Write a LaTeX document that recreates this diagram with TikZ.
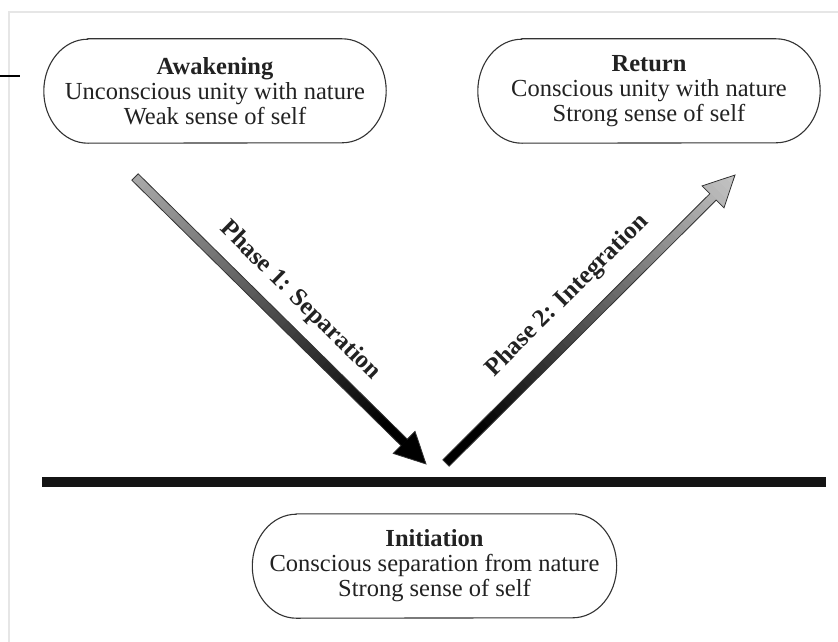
\documentclass[tikz,border=0pt]{standalone}
\usepackage{fontspec}
\setmainfont{Liberation Serif}
\definecolor{framegray}{HTML}{E6E6E6}
\definecolor{inkgray}{HTML}{222222}
\definecolor{tailgray}{HTML}{A8A8A8}
\definecolor{headgray}{HTML}{C6C6C6}
\definecolor{edgegray}{HTML}{333333}
\newcommand\drawstadium[1]{%
  \draw[boxline] ([xshift=44pt]#1.north west) -- ([xshift=-44pt]#1.north east)
    arc[start angle=90,end angle=-90,x radius=44pt,y radius=52pt]
    -- ([xshift=44pt]#1.south west)
    arc[start angle=270,end angle=90,x radius=44pt,y radius=52pt] -- cycle;}
\begin{document}
\begin{tikzpicture}[x=1pt,y=1pt,
  stagebox/.style={inner sep=0pt, minimum height=104pt, align=center,
    text=inkgray, font=\fontsize{24.5}{25}\selectfont},
  boxline/.style={draw=edgegray, line width=1.1pt},
  phaselabel/.style={inner sep=0pt, text=inkgray,
    font=\fontsize{25}{26}\selectfont\bfseries},
  arrowedge/.style={draw=edgegray, line width=0.8pt, line join=miter},
  floor/.style={line width=10pt, draw=black!92},
  framestroke/.style={draw=framegray, line width=1.5pt}]
\useasboundingbox (0,0) rectangle (838,-642);
\fill[white] (0,0) rectangle (838,-642);

% faint frame and stray mark
\coordinate (fa) at (9,-642);
\coordinate (fb) at (9,-12);
\coordinate (fc) at (838,-12);
\draw[framestroke] (fa) -- (fb) -- (fc);
\coordinate (ma) at (0,-76);
\coordinate (mb) at (20,-76);
\draw[line width=1.5pt, black] (ma) -- (mb);

% stages
\node[stagebox, minimum width=342pt] (awk) at (215,-91)
  {\textbf{Awakening}\\Unconscious unity with nature\\Weak sense of self};
\drawstadium{awk}
\node[stagebox, minimum width=342pt] (ret) at (649,-91)
  {\textbf{Return}\\Conscious unity with nature\\Strong sense of self};
\drawstadium{ret}
\node[stagebox, minimum width=364pt] (ini) at (434.5,-566)
  {\textbf{Initiation}\\Conscious separation from nature\\Strong sense of self};
\drawstadium{ini}

% ground line
\coordinate (g1) at (42,-482);
\coordinate (g2) at (826,-482);
\draw[floor] (g1) -- (g2);

% arrow 1 (down)
\coordinate (t1) at (135,-177);
\coordinate (h1) at (426,-464);
\begin{scope}[shift={(t1)}, rotate=-44.6]
  \begin{scope}
    \clip (0,-4.5) -- (378,-4.5) -- (378,-15.5) -- (408.7,0) -- (378,15.5) -- (378,4.5) -- (0,4.5) -- cycle;
    \foreach \i in {0,...,59} {
      \pgfmathsetmacro\p{min(100,100*\i/50)}
      \fill[black!\p!tailgray] (\i*7,-20) rectangle (\i*7+7.6,20);
    }
  \end{scope}
  \draw[arrowedge] (0,-4.5) -- (378,-4.5) -- (378,-15.5) -- (408.7,0) -- (378,15.5) -- (378,4.5) -- (0,4.5) -- cycle;
\end{scope}
\path (t1) -- (h1) node[midway, sloped, above=16pt, phaselabel] (p1) {Phase 1: Separation};

% arrow 2 (up)
\coordinate (t2) at (446,-463);
\coordinate (h2) at (735,-175);
\begin{scope}[shift={(t2)}, rotate=44.9]
  \begin{scope}
    \clip (0,-4.5) -- (377,-4.5) -- (377,-15.5) -- (408,0) -- (377,15.5) -- (377,4.5) -- (0,4.5) -- cycle;
    \foreach \i in {0,...,59} {
      \pgfmathsetmacro\p{max(0,min(100,100-100*(\i-6)/52))}
      \fill[black!\p!headgray] (\i*7,-20) rectangle (\i*7+7.6,20);
    }
  \end{scope}
  \draw[arrowedge] (0,-4.5) -- (377,-4.5) -- (377,-15.5) -- (408,0) -- (377,15.5) -- (377,4.5) -- (0,4.5) -- cycle;
\end{scope}
\path (t2) -- (h2) node[midway, sloped, above=21pt, phaselabel] (p2) {Phase 2: Integration};
\end{tikzpicture}
\end{document}
